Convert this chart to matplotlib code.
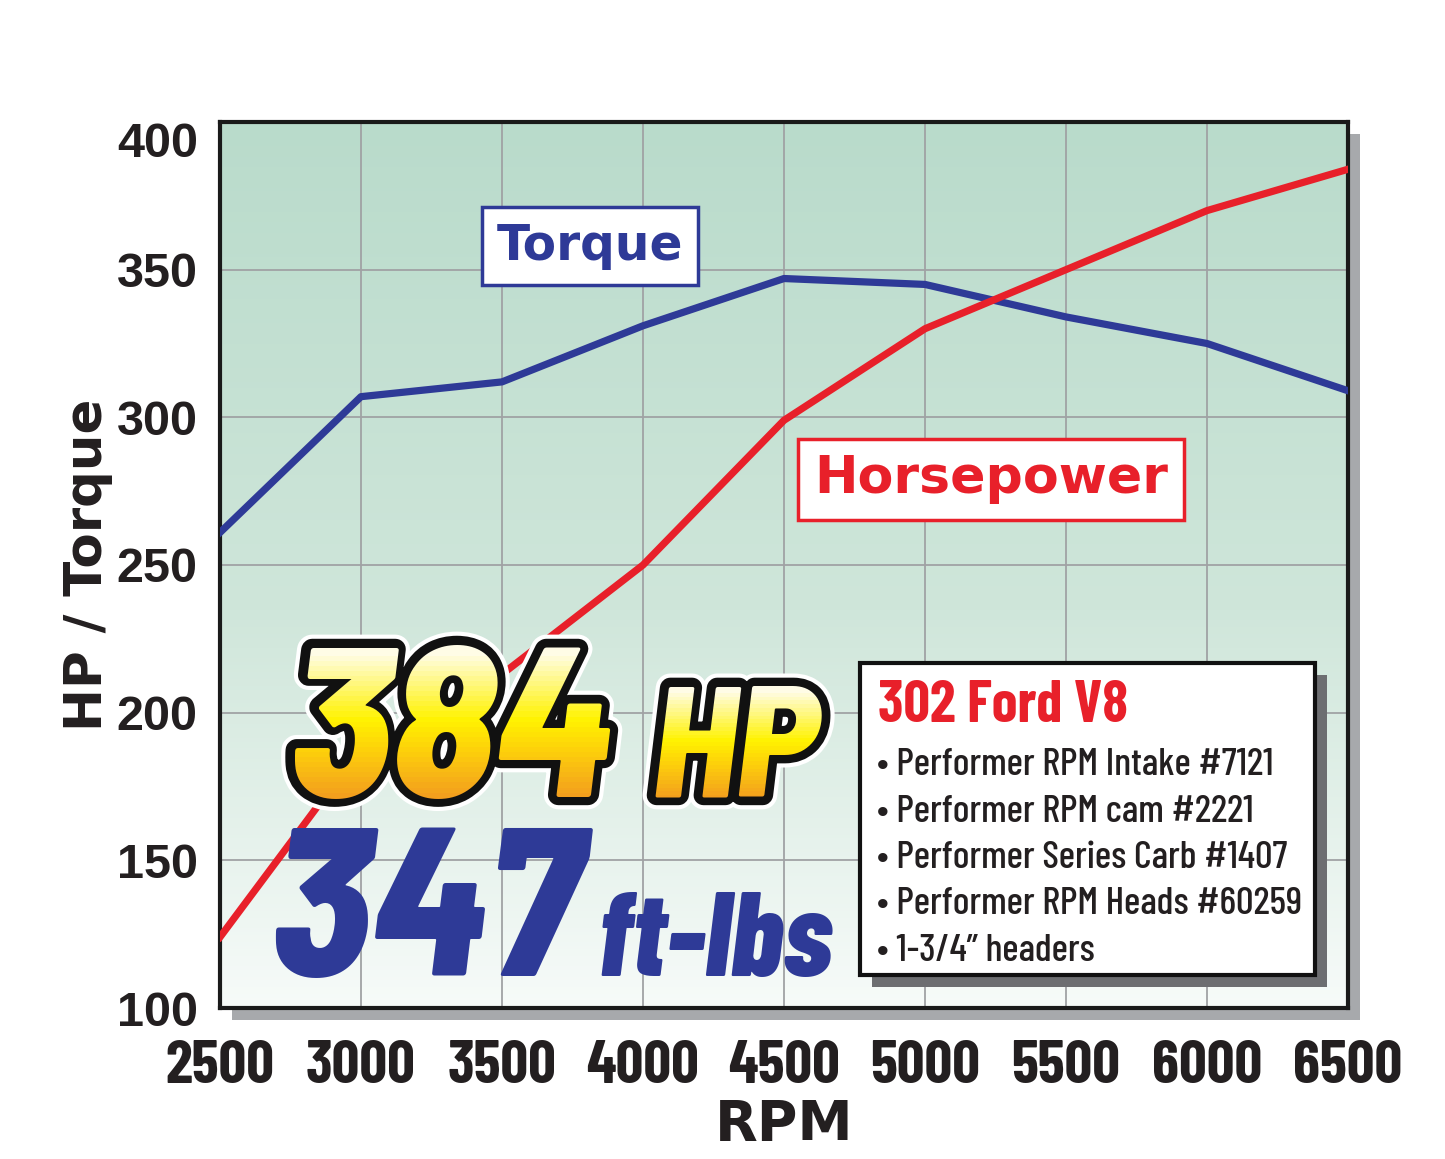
import numpy as np
import matplotlib
matplotlib.use("Agg")
import matplotlib.pyplot as plt
import matplotlib.patheffects as pe
from matplotlib import font_manager as fm
from matplotlib.colors import LinearSegmentedColormap
from matplotlib.patches import Rectangle

# Dyno data
rpm = [2500, 3000, 3500, 4000, 4500, 5000, 5500, 6000, 6500]
hp = [124, 188, 213, 250, 299, 330, 350, 370, 384]
torque = [261, 307, 312, 331, 347, 345, 334, 325, 309]
y_ticks = [100, 150, 200, 250, 300, 350, 400]

engine = "302 Ford V8"
parts = [
    "Performer RPM Intake #7121",
    "Performer RPM cam #2221",
    "Performer Series Carb #1407",
    "Performer RPM Heads #60259",
    "1-3/4\u201d headers",
]

red = "#e8202a"
blue = "#2e3a97"
ink = "#231f20"

# condensed face if the machine has one, else plain Liberation at smaller sizes
have = {f.name for f in fm.fontManager.ttflist}
barlow = "Barlow Condensed" in have and "Barlow Semi Condensed" in have
cond = ["Barlow Condensed", "DejaVu Sans"] if barlow else ["Liberation Sans", "DejaVu Sans"]
semi = ["Barlow Semi Condensed", "DejaVu Sans"] if barlow else ["Liberation Sans", "DejaVu Sans"]
k = 1.0 if barlow else 0.74

W, H = 1445, 1159
fx = lambda px: px / W
fy = lambda py: 1 - py / H

fig = plt.figure(figsize=(W / 100, H / 100), dpi=100)
ax = fig.add_axes([fx(220), fy(1008), 1128 / W, 886 / H])

# drop shadow behind the plot frame
fig.add_artist(Rectangle((fx(232), fy(1020)), 1128 / W, 886 / H, transform=fig.transFigure,
                         fc="#a7a9ac", ec="none", zorder=-1))

# background gradient
bg = LinearSegmentedColormap.from_list("bg", [(0, "#f7fbf9"), (0.45, "#cfe6da"), (1, "#b9dbcb")])
ax.imshow(np.linspace(0, 1, 256).reshape(-1, 1), cmap=bg, origin="lower", aspect="auto",
          extent=[rpm[0], rpm[-1], y_ticks[0], y_ticks[-1]], zorder=0)

ax.plot(rpm, torque, color=blue, lw=5.2, zorder=3)
ax.plot(rpm, hp, color=red, lw=5.2, zorder=3)

ax.set_xlim(rpm[0], rpm[-1])
ax.set_ylim(y_ticks[0], y_ticks[-1])
ax.set_xticks(rpm)
ax.set_yticks(y_ticks)
ax.grid(color="#a0a2a4", lw=1.3)
ax.tick_params(length=0)
ax.tick_params(axis="x", pad=23)
ax.tick_params(axis="y", pad=16)
for lab in ax.get_xticklabels():
    lab.set(family=cond, weight="bold", fontsize=44 * k, color=ink)
for lab in ax.get_yticklabels():
    lab.set(family=["Liberation Sans", "DejaVu Sans"], weight="bold", fontsize=35, color=ink)
ax.get_yticklabels()[-1].set_va("top")
for s in ax.spines.values():
    s.set_linewidth(3)
    s.set_color("#1a1a1a")

ax.set_ylabel("HP / Torque", family="DejaVu Sans", weight="bold", fontsize=37, color=ink)
ax.yaxis.set_label_coords(-0.095, 0.5)
ax.set_xlabel("RPM", family="DejaVu Sans", weight="bold", fontsize=40, color=ink)
ax.xaxis.set_label_coords(0.5, -0.102)

# series labels
ax.text(3812, 358, "Torque", ha="center", va="center", fontsize=35, weight="bold", color=blue,
        zorder=4, bbox=dict(boxstyle="square,pad=0.3", fc="white", ec=blue, lw=2.5))
ax.text(5234, 279, "Horsepower", ha="center", va="center", fontsize=37.5, weight="bold", color=red,
        zorder=4, bbox=dict(boxstyle="square,pad=0.3", fc="white", ec=red, lw=2.5))

# big peak numbers
gold = LinearSegmentedColormap.from_list("gold", [(0, "#f29a1f"), (0.35, "#fdd20a"),
                                                  (0.55, "#fff200"), (1, "#fffce6")])


def gold_word(s, x, y, fs, top):
    kw = dict(fontsize=fs, family=semi, weight="heavy", style="italic", zorder=5)
    ax.text(x, y, s, color="#111111", path_effects=[
        pe.withStroke(linewidth=18, foreground="white"),
        pe.withStroke(linewidth=12, foreground="#111111")], **kw)
    n = 30
    edges = np.linspace(y - 2, top, n + 1)
    edges[0], edges[-1] = y - 30, top + 30
    cols = gold(np.linspace(0, 1, n))
    for i in range(n):
        t = ax.text(x, y, s, color=cols[i], clip_on=True, **kw)
        t.set_clip_path(Rectangle((rpm[0], edges[i]), rpm[-1] - rpm[0], edges[i + 1] - edges[i],
                                  transform=ax.transData))


gold_word(str(max(hp)), 2740, 171.5, 154 * k, 221)
gold_word("HP", 4030, 171.5, 114 * k, 208)

big = dict(weight="heavy", style="italic", color=blue, zorder=5)
ax.text(2675, 111, str(max(torque)), fontsize=152 * k, family=semi, **big)
ax.text(3835, 111, "ft-lbs", fontsize=86 * k, family=cond, **big)

# spec box
fig.add_artist(Rectangle((fx(872), fy(987)), 455 / W, 312 / H, transform=fig.transFigure,
                         fc="#6d6e71", ec="none", zorder=2))
fig.add_artist(Rectangle((fx(860), fy(975)), 455 / W, 312 / H, transform=fig.transFigure,
                         fc="white", ec="#111111", lw=3, zorder=3))
fig.text(fx(878), fy(722), engine, fontsize=42 * k, family=cond, weight="bold", color=red, zorder=4)
for i, part in enumerate(parts):
    fig.text(fx(877), fy(775 + i * 46.5), "\u2022 " + part, fontsize=28 * k, family=cond,
             weight="medium", color=ink, zorder=4)

fig.savefig("out.png", dpi=100)
